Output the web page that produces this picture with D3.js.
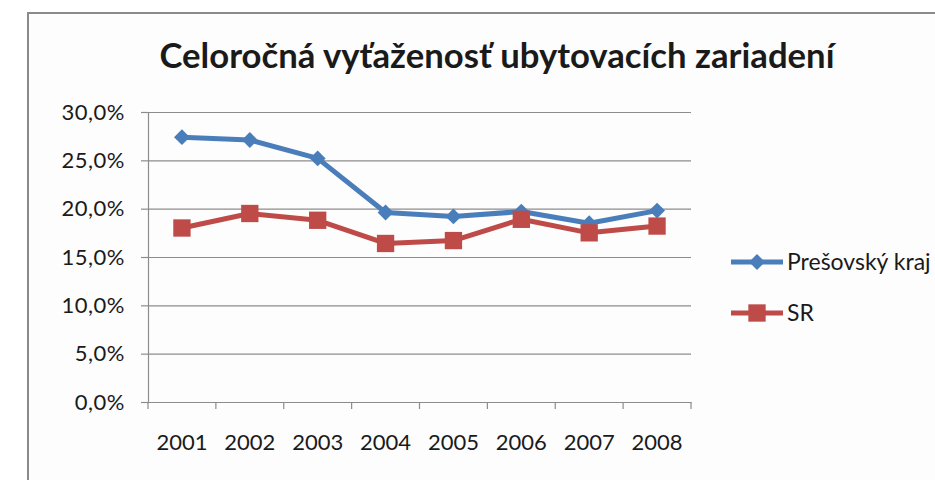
<!DOCTYPE html>
<html>
<head>
<meta charset="utf-8">
<script src="https://cdn.jsdelivr.net/npm/d3@7"></script>
<style>
  html, body { margin: 0; padding: 0; background: #ffffff; overflow: hidden; }
  svg { display: block; }
  text { font-family: Lato, "Open Sans", sans-serif; fill: #1a1a1a; }
</style>
</head>
<body>
<svg id="chart" width="935" height="480"></svg>
<script>
// ---- data ----
const years = ["2001", "2002", "2003", "2004", "2005", "2006", "2007", "2008"];
const presov = [27.4, 27.1, 25.2, 19.6, 19.2, 19.7, 18.5, 19.8];
const sr = [18.0, 19.5, 18.8, 16.4, 16.7, 18.9, 17.5, 18.2];
const yTicks = [0, 5, 10, 15, 20, 25, 30];
const seriesNames = ["Prešovský kraj", "SR"];
const title = "Celoročná vyťaženosť ubytovacích zariadení";

const svg = d3.select("#chart");
const W = 935, H = 480;

// frame
svg.append("rect").attr("x", 28).attr("y", 13).attr("width", W).attr("height", H)
  .attr("fill", "#fdfdfd").attr("stroke", "#8a8a8a").attr("stroke-width", 2);

// title (fit to the reference width)
const t = svg.append("text").attr("x", 497).attr("y", 68).attr("text-anchor", "middle")
  .style("font-weight", "700").style("font-size", "30px").text(title);
const tw = t.node().getComputedTextLength();
t.style("font-size", (30 * 675 / tw).toFixed(2) + "px");

const plot = { left: 148, right: 691, top: 112, bottom: 402 };
const x = d3.scaleBand().domain(years).range([plot.left, plot.right]);
const y = d3.scaleLinear().domain([0, 30]).range([plot.bottom, plot.top]);

const fmtLoc = d3.formatLocale({ decimal: ",", thousands: " ", grouping: [3], currency: ["", ""] });
const fmt = d => fmtLoc.format(".1f")(d) + "%";

// gridlines
const grid = svg.append("g").attr("transform", `translate(${plot.left},0)`)
  .call(d3.axisLeft(y).tickValues(yTicks).tickSize(-(plot.right - plot.left)).tickFormat(""));
grid.select(".domain").remove();
grid.selectAll(".tick line").attr("stroke", "#8c8c8c").attr("stroke-width", 1.2);

// y axis
const ya = svg.append("g").attr("transform", `translate(${plot.left},0)`)
  .call(d3.axisLeft(y).tickValues(yTicks).tickSize(7).tickPadding(16).tickFormat(fmt));
ya.select(".domain").attr("stroke", "#8c8c8c").attr("stroke-width", 1.2);
ya.selectAll(".tick line").attr("stroke", "#8c8c8c").attr("stroke-width", 1.2);
ya.selectAll(".tick text").style("font-size", "22px").style("font-family", "Lato, sans-serif")
  .style("letter-spacing", "0.5px").attr("fill", "#262626");

// x axis
const xa = svg.append("g").attr("transform", `translate(0,${plot.bottom})`)
  .call(d3.axisBottom(x).tickSize(0).tickPadding(32));
xa.select(".domain").attr("stroke", "#8c8c8c").attr("stroke-width", 1.2);
xa.selectAll(".tick text").style("font-size", "22px").style("font-family", "Lato, sans-serif").attr("fill", "#262626");
const bounds = years.map(d => x(d)).concat([x(years[years.length - 1]) + x.bandwidth()]);
svg.append("g").selectAll("line").data(bounds).join("line")
  .attr("x1", d => d).attr("x2", d => d).attr("y1", plot.bottom).attr("y2", plot.bottom + 7)
  .attr("stroke", "#8c8c8c").attr("stroke-width", 1.2);

const colors = ["#4a7ebb", "#be4b48"];
const data = [presov, sr];
const line = d3.line().x((d, i) => x(years[i]) + x.bandwidth() / 2).y(d => y(d));

const diamond = d3.symbol().type(d3.symbolDiamond2).size(160);
const square = d3.symbol().type(d3.symbolSquare).size(300);
const symbols = [diamond, square];

data.forEach((vals, s) => {
  svg.append("path").datum(vals).attr("d", line).attr("fill", "none")
    .attr("stroke", colors[s]).attr("stroke-width", 5).attr("stroke-linejoin", "round");
  svg.append("g").selectAll("path").data(vals).join("path")
    .attr("transform", (d, i) => `translate(${x(years[i]) + x.bandwidth() / 2},${y(d)})`)
    .attr("d", symbols[s]).attr("fill", colors[s]);
});

// legend
const legY = [262, 313];
seriesNames.forEach((name, s) => {
  const g = svg.append("g").attr("transform", `translate(731,${legY[s]})`);
  g.append("line").attr("x1", 0).attr("x2", 52).attr("stroke", colors[s]).attr("stroke-width", 5);
  g.append("path").attr("transform", "translate(26,0)").attr("d", symbols[s]).attr("fill", colors[s]);
  g.append("text").attr("x", 56).attr("dy", "0.35em").style("font-size", "23px").attr("fill", "#262626").text(name);
});
</script>
</body>
</html>
